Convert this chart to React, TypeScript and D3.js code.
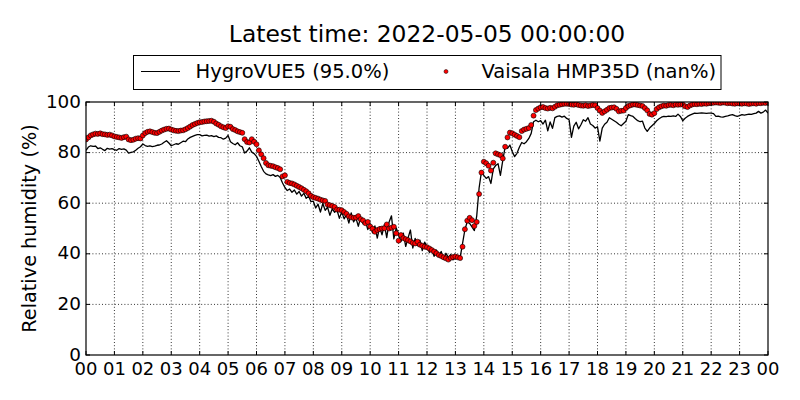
import * as d3 from 'd3'
import React from 'react'

const title = 'Latest time: 2022-05-05 00:00:00'
const yLabel = 'Relative humidity (%)'
const seriesNames = ['HygroVUE5 (95.0%)', 'Vaisala HMP35D (nan%)']
const hourLabels = ['00', '01', '02', '03', '04', '05', '06', '07', '08', '09', '10', '11',
  '12', '13', '14', '15', '16', '17', '18', '19', '20', '21', '22', '23', '00']
const yTicks = [0, 20, 40, 60, 80, 100]
const stepMinutes = 5

// one row per hour, a reading every 5 minutes
const hygroVue = [
  80.9, 82.2, 82.7, 82.5, 82.6, 81.6, 81.9, 81.3, 80.8, 81.7, 81.4, 81.6,
  81.2, 80.9, 81.6, 81.3, 81.5, 81.0, 79.8, 80.1, 80.3, 80.9, 81.7, 82.3,
  83.4, 82.8, 82.5, 82.7, 82.4, 82.6, 82.9, 83.0, 83.4, 84.1, 84.7, 83.8,
  82.7, 83.1, 83.5, 83.3, 83.9, 84.5, 84.3, 85.4, 86.0, 86.4, 86.8, 87.1,
  87.1, 86.6, 86.8, 86.9, 86.5, 86.7, 86.3, 86.6, 86.0, 85.9, 85.3, 85.7,
  86.8, 84.3, 83.6, 83.1, 83.9, 82.7, 82.3, 79.8, 80.6, 81.9, 80.2, 79.6,
  78.5, 76.6, 74.5, 72.6, 71.6, 71.2, 70.9, 71.3, 70.6, 71.0, 70.2, 68.0,
  66.2, 65.0, 65.6, 64.3, 65.2, 63.6, 64.6, 62.8, 63.9, 61.9, 62.8, 60.6,
  60.8, 58.1, 59.6, 56.5, 59.9, 57.2, 58.4, 55.2, 57.8, 56.4, 57.3, 54.0,
  56.6, 53.8, 55.5, 52.1, 56.2, 52.6, 54.1, 50.9, 54.5, 51.8, 52.9, 49.6,
  51.8, 48.3, 51.0, 46.2, 50.6, 47.5, 51.5, 46.4, 52.6, 55.0, 45.9, 50.2,
  47.6, 44.8, 48.2, 42.9, 46.3, 49.4, 42.3, 46.1, 43.2, 45.4, 41.3, 44.6,
  42.8, 40.6, 42.1, 39.0, 41.5, 39.4, 40.9, 37.8, 40.2, 38.6, 39.7, 37.6,
  38.4, 39.2, 38.5, 44.0, 49.5, 52.7, 52.0, 50.6, 49.2, 55.0, 66.0, 72.5,
  71.0, 69.8, 70.5, 67.8, 73.6, 74.9, 75.6, 71.0, 76.9, 82.3, 81.7, 83.0,
  80.4, 78.4, 79.7, 82.1, 84.0, 83.5, 84.3, 85.6, 87.6, 92.2, 92.8, 92.2,
  92.6, 91.3, 92.8, 88.6, 92.1, 89.6, 93.8, 94.3, 94.5, 94.0, 94.4, 93.5,
  93.0, 86.0, 90.5, 92.0, 89.4, 91.0, 93.0, 92.4, 93.8, 91.3, 90.7, 89.7,
  90.2, 84.5, 89.7, 91.2, 92.0, 93.8, 93.2, 92.6, 92.0, 91.2, 90.6, 91.5,
  92.4, 95.0, 94.6, 94.3, 93.4, 92.6, 92.2, 92.4, 89.7, 88.4, 89.7, 90.6,
  91.5, 92.6, 93.4, 94.0, 94.3, 94.2, 94.4, 94.3, 94.5, 94.3, 95.2, 94.3,
  92.6, 93.6, 94.3, 94.8, 95.2, 95.6, 95.5, 95.6, 95.7, 95.6, 95.5, 95.6,
  95.6, 95.4, 94.3, 94.4, 94.1, 94.0, 94.3, 94.5, 94.8, 95.0, 94.6, 94.3,
  94.6, 95.0, 94.8, 95.0, 95.2, 95.1, 95.4, 95.6, 96.3, 95.6, 96.0, 96.8,
  95.6,
]

const vaisala = [
  85.2, 86.0, 86.8, 87.2, 87.5, 87.4, 87.6, 87.3, 87.2, 87.0, 87.1, 86.8,
  86.4, 86.2, 86.0, 85.8, 86.1, 86.3, 85.2, 84.9, 85.1, 85.5, 85.7, 85.6,
  86.8, 87.7, 88.2, 88.4, 88.1, 87.8, 87.7, 88.2, 88.7, 89.1, 89.4, 89.5,
  89.1, 88.8, 88.6, 88.5, 88.7, 88.8, 89.2, 89.7, 90.3, 90.9, 91.3, 91.7,
  92.0, 92.1, 92.3, 92.4, 92.5, 92.6, 92.2, 91.5, 91.0, 90.4, 90.0, 89.7,
  90.4, 90.2, 89.3, 88.9, 88.4, 88.1, 87.8, 85.3, 84.2, 84.0, 85.3, 84.3,
  83.3, 80.9, 79.3, 77.8, 75.9, 75.0, 74.8, 74.6, 74.2, 73.9, 73.4, 70.6,
  71.0, 68.4, 68.0, 67.8, 67.4, 66.9, 66.4, 65.9, 65.3, 64.7, 63.9, 62.9,
  62.4, 62.1, 61.8, 61.4, 61.1, 60.9, 59.5, 59.2, 58.9, 58.5, 57.5, 57.4,
  57.2, 56.5, 55.8, 54.8, 54.4, 54.2, 54.3, 54.9, 53.7, 53.2, 52.1, 52.6,
  50.8, 49.9, 48.7, 49.4, 49.8, 50.0, 50.1, 51.6, 50.0, 50.3, 50.7, 48.1,
  45.2, 47.4, 46.2, 45.8, 45.4, 44.9, 44.3, 44.1, 44.8, 43.6, 43.2, 42.8,
  42.6, 42.1, 41.5, 40.9, 40.2, 39.5, 39.1, 38.6, 38.2, 37.7, 38.4, 38.7,
  38.9, 38.6, 38.3, 42.8, 49.7, 53.1, 54.2, 53.3, 51.0, 52.6, 63.6, 72.1,
  76.4, 75.8, 74.8, 72.9, 76.0, 79.7, 79.3, 79.0, 77.7, 82.3, 86.0, 87.9,
  87.6, 87.1, 86.6, 86.1, 88.5, 89.1, 89.4, 89.7, 90.9, 94.6, 96.8, 97.4,
  97.9, 98.0, 97.6, 97.4, 97.7, 97.5, 98.1, 98.7, 98.9, 99.1, 99.3, 99.3,
  99.2, 99.0, 98.9, 99.1, 98.8, 98.6, 98.5, 98.7, 98.4, 98.6, 98.8, 98.7,
  97.6, 96.6, 95.7, 96.3, 96.9, 97.6, 97.8, 97.9, 97.3, 96.3, 96.5, 96.6,
  97.6, 98.4, 98.7, 99.0, 99.0, 98.8, 98.6, 98.4, 97.6, 96.7, 95.3, 95.0,
  95.6, 97.2, 97.9, 98.3, 98.6, 98.5, 98.8, 98.9, 98.7, 99.0, 98.9, 99.0,
  99.0, 98.3, 98.0, 98.6, 99.0, 99.2, 99.1, 99.3, 99.2, 99.4, 99.3, 99.5,
  99.6, 99.7, 99.8, 99.7, 99.6, 99.8, 99.7, 99.5, 99.6, 99.4, 99.3, 99.5,
  99.4, 99.3, 99.5, 99.4, 99.2, 99.4, 99.5, 99.3, 99.6, 99.5, 99.7, 99.6,
  99.8,
]

const W = 800
const H = 400
const left = 86
const right = 768
const top = 102
const bottom = 355
const font = 'DejaVu Sans'

const App = () => {
  const x = d3.scaleLinear().domain([0, 24 * 60]).range([left, right])
  const y = d3.scaleLinear().domain([0, 100]).range([bottom, top])

  const line = d3
    .line<number>()
    .x((d, i) => x(i * stepMinutes))
    .y((d) => y(d))

  const hourX = hourLabels.map((l, i) => x(i * 60))

  return (
    <svg width={W} height={H} style={{ position: 'absolute', left: 0, top: 0, background: '#fff' }}
      fontFamily={font}>
      <defs>
        <clipPath id="plot">
          <rect x={left} y={top} width={right - left} height={bottom - top} />
        </clipPath>
      </defs>
      <rect x={0} y={0} width={W} height={H} fill="#fff" />

      {/* grid */}
      {hourX.slice(1, -1).map((px, i) => (
        <line key={'gx' + i} x1={px} x2={px} y1={top} y2={bottom}
          stroke="#000" strokeWidth={0.8} strokeDasharray="1,2.2" />
      ))}
      {yTicks.slice(1, -1).map((t) => (
        <line key={'gy' + t} x1={left} x2={right} y1={y(t)} y2={y(t)}
          stroke="#000" strokeWidth={0.8} strokeDasharray="1,2.2" />
      ))}

      <g clipPath="url(#plot)">
        <path d={line(hygroVue) || ''} fill="none" stroke="#000" strokeWidth={1.3} strokeLinejoin="round" />
        {vaisala.map((v, i) => (
          <circle key={i} cx={x(i * stepMinutes)} cy={y(v)} r={2.5}
            fill="#ff0000" stroke="#000" strokeWidth={0.6} />
        ))}
      </g>

      {/* inward ticks on all sides */}
      {hourX.map((px, i) => (
        <g key={'tx' + i}>
          <line x1={px} x2={px} y1={bottom} y2={bottom - 4} stroke="#000" />
          <line x1={px} x2={px} y1={top} y2={top + 4} stroke="#000" />
        </g>
      ))}
      {yTicks.map((t) => (
        <g key={'ty' + t}>
          <line x1={left} x2={left + 4} y1={y(t)} y2={y(t)} stroke="#000" />
          <line x1={right} x2={right - 4} y1={y(t)} y2={y(t)} stroke="#000" />
        </g>
      ))}

      <rect x={left} y={top} width={right - left} height={bottom - top}
        fill="none" stroke="#000" strokeWidth={1.2} />

      {/* tick labels */}
      {hourLabels.map((l, i) => (
        <text key={'lx' + i} x={hourX[i]} y={375} fontSize={18} textAnchor="middle">{l}</text>
      ))}
      {yTicks.map((t) => (
        <text key={'ly' + t} x={81} y={y(t) + 5.5} fontSize={18.4} textAnchor="end">{t}</text>
      ))}

      <text transform={`translate(35.5, ${(top + bottom) / 2}) rotate(-90)`} fontSize={19.3}
        textAnchor="middle">{yLabel}</text>

      <text x={(left + right) / 2} y={42.3} fontSize={23.4} textAnchor="middle">{title}</text>

      {/* legend */}
      <rect x={133.5} y={55.5} width={587.5} height={34} fill="#fff" stroke="#000" strokeWidth={1} />
      <line x1={141} x2={180} y1={71.5} y2={71.5} stroke="#000" strokeWidth={1.1} />
      <text x={195.5} y={78.3} fontSize={19.5}>{seriesNames[0]}</text>
      <circle cx={446} cy={71.5} r={2} fill="#ff0000" stroke="#000" strokeWidth={0.5} />
      <text x={481.5} y={78.3} fontSize={19.5}>{seriesNames[1]}</text>
    </svg>
  )
}

export default App
